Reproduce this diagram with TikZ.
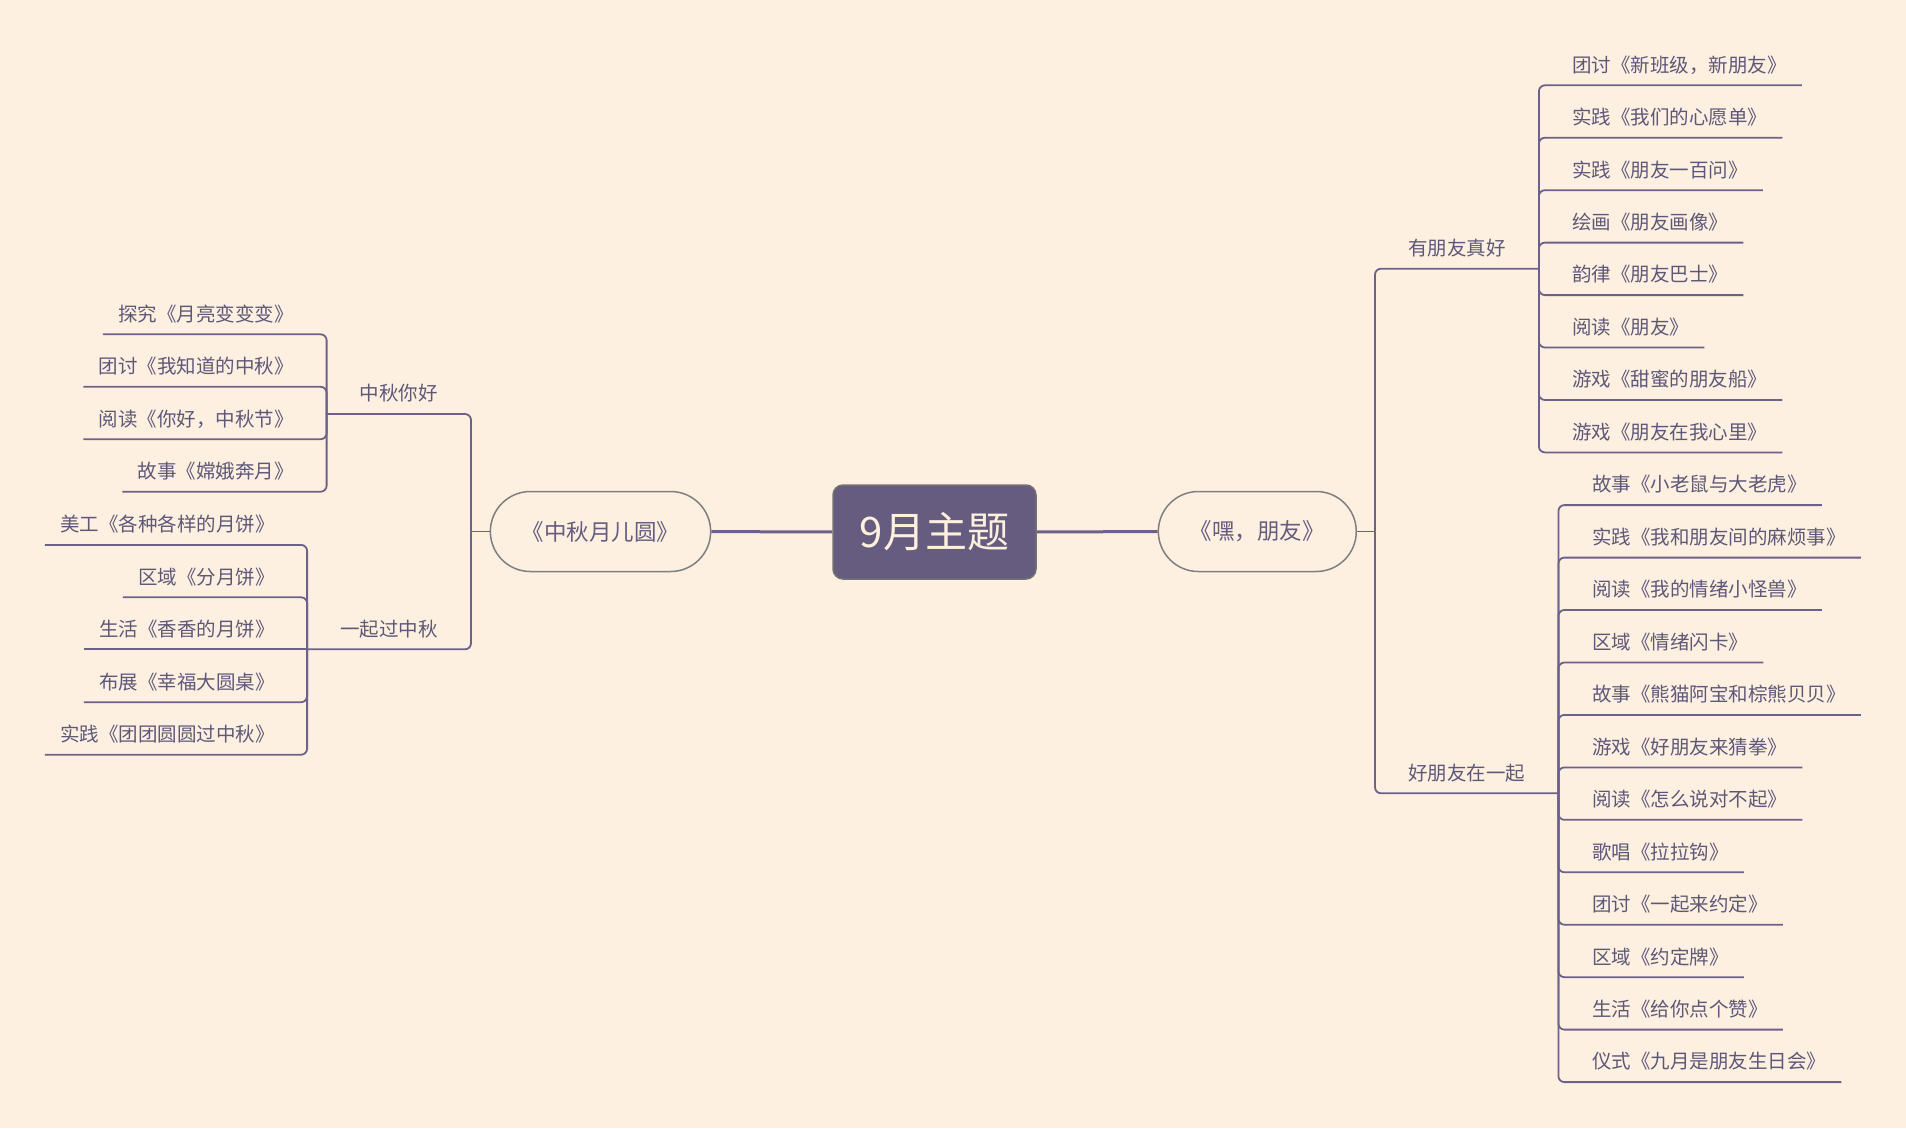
\documentclass[tikz,border=0pt]{standalone}
\usepackage{fontspec}
\setmainfont{Noto Sans CJK SC}
\usetikzlibrary{shapes.misc}

\definecolor{paper}{HTML}{FDF0E1}
\definecolor{plum}{HTML}{655C7F}
\definecolor{wire}{HTML}{6B6189}
\definecolor{ink}{HTML}{5E5878}
\definecolor{cream}{HTML}{FDF0DC}
\definecolor{rim}{HTML}{7F7F7F}

\tikzset{
    topic/.style={draw=rim!90!black, line width=1.5pt, fill=plum, text=cream, rounded corners=10pt,
        minimum width=203pt, minimum height=94pt, inner sep=0pt, font=\fontsize{42}{50}\selectfont},
    book/.style={draw=rim, line width=1.5pt, fill=paper, text=plum, rounded rectangle,
        minimum height=80pt, inner xsep=30pt, font=\fontsize{22.5}{27}\selectfont},
    theme/.style={text=ink, inner xsep=33pt, inner ysep=0pt, text height=20pt, text depth=13pt,
        font=\fontsize{19.5}{23}\selectfont},
    leaf/.style={text=ink, inner xsep=15pt, inner ysep=0pt, text height=20pt, text depth=13pt,
        font=\fontsize{19.5}{23}\selectfont},
    trunk/.style={draw=wire, line width=3pt},
    twig/.style={draw=wire, line width=1.8pt, rounded corners=6pt},
}

\begin{document}
\begin{tikzpicture}[x=1pt, y=-1pt]
    % paper
    \fill[paper] (0,0) rectangle (1906,1128);
    \useasboundingbox (0,0) rectangle (1906,1128);

    % centre and the two books
    \node[topic] (topic) at (934.5,532) {9月主题};
    \node[book] (lbook) at (600.5,531.5) {《中秋月儿圆》};
    \node[book] (rbook) at (1257.3,531.5) {《嘿，朋友》};
    \draw[trunk] (topic) -- (lbook);
    \draw[trunk] (topic) -- (rbook);

    \coordinate (ljoin) at (471,531.5);
    \coordinate (rjoin) at (1375,531.5);

    % right side, first theme
    \node[theme, anchor=south west] (ra) at (1375,268.7) {有朋友真好};
    \node[leaf, anchor=south west] (r1) at (1557,85.3) {团讨《新班级，新朋友》};
    \node[leaf, anchor=south west] (r2) at (1557,137.7) {实践《我们的心愿单》};
    \node[leaf, anchor=south west] (r3) at (1557,190.2) {实践《朋友一百问》};
    \node[leaf, anchor=south west] (r4) at (1557,242.6) {绘画《朋友画像》};
    \node[leaf, anchor=south west] (r5) at (1557,295.1) {韵律《朋友巴士》};
    \node[leaf, anchor=south west] (r6) at (1557,347.5) {阅读《朋友》};
    \node[leaf, anchor=south west] (r7) at (1557,400.0) {游戏《甜蜜的朋友船》};
    \node[leaf, anchor=south west] (r8) at (1557,452.4) {游戏《朋友在我心里》};

    % right side, second theme
    \node[theme, anchor=south west] (rb) at (1375,793.3) {好朋友在一起};
    \node[leaf, anchor=south west] (s1) at (1577,505.1) {故事《小老鼠与大老虎》};
    \node[leaf, anchor=south west] (s2) at (1577,557.6) {实践《我和朋友间的麻烦事》};
    \node[leaf, anchor=south west] (s3) at (1577,610.0) {阅读《我的情绪小怪兽》};
    \node[leaf, anchor=south west] (s4) at (1577,662.5) {区域《情绪闪卡》};
    \node[leaf, anchor=south west] (s5) at (1577,714.9) {故事《熊猫阿宝和棕熊贝贝》};
    \node[leaf, anchor=south west] (s6) at (1577,767.4) {游戏《好朋友来猜拳》};
    \node[leaf, anchor=south west] (s7) at (1577,819.8) {阅读《怎么说对不起》};
    \node[leaf, anchor=south west] (s8) at (1577,872.3) {歌唱《拉拉钩》};
    \node[leaf, anchor=south west] (s9) at (1577,924.7) {团讨《一起来约定》};
    \node[leaf, anchor=south west] (s10) at (1577,977.2) {区域《约定牌》};
    \node[leaf, anchor=south west] (s11) at (1577,1029.6) {生活《给你点个赞》};
    \node[leaf, anchor=south west] (s12) at (1577,1082.1) {仪式《九月是朋友生日会》};

    % left side, first theme
    \node[theme, anchor=south east] (la) at (471,414) {中秋你好};
    \node[leaf, anchor=south east] (l1) at (308.7,334.3) {探究《月亮变变变》};
    \node[leaf, anchor=south east] (l2) at (308.7,386.8) {团讨《我知道的中秋》};
    \node[leaf, anchor=south east] (l3) at (308.7,439.2) {阅读《你好，中秋节》};
    \node[leaf, anchor=south east] (l4) at (308.7,491.7) {故事《嫦娥奔月》};

    % left side, second theme
    \node[theme, anchor=south east] (lb) at (471,649.3) {一起过中秋};
    \node[leaf, anchor=south east] (m1) at (289.7,544.9) {美工《各种各样的月饼》};
    \node[leaf, anchor=south east] (m2) at (289.7,597.3) {区域《分月饼》};
    \node[leaf, anchor=south east] (m3) at (289.7,649.3) {生活《香香的月饼》};
    \node[leaf, anchor=south east] (m4) at (289.7,702.2) {布展《幸福大圆桌》};
    \node[leaf, anchor=south east] (m5) at (289.7,754.7) {实践《团团圆圆过中秋》};

    % branches
    \draw[twig] (rbook.east) -- (rjoin);
    \draw[twig] (rjoin) |- (ra.south east);
    \draw[twig] (rjoin) |- (rb.south east);
    \draw[twig] (lbook.west) -- (ljoin);
    \draw[twig] (ljoin) |- (la.south west);
    \draw[twig] (ljoin) |- (lb.south west);

    \draw[twig] (ra.south east) |- (r1.south east);
    \draw[twig] (ra.south east) |- (r2.south east);
    \draw[twig] (ra.south east) |- (r3.south east);
    \draw[twig] (ra.south east) |- (r4.south east);
    \draw[twig] (ra.south east) |- (r5.south east);
    \draw[twig] (ra.south east) |- (r6.south east);
    \draw[twig] (ra.south east) |- (r7.south east);
    \draw[twig] (ra.south east) |- (r8.south east);

    \draw[twig] (rb.south east) |- (s1.south east);
    \draw[twig] (rb.south east) |- (s2.south east);
    \draw[twig] (rb.south east) |- (s3.south east);
    \draw[twig] (rb.south east) |- (s4.south east);
    \draw[twig] (rb.south east) |- (s5.south east);
    \draw[twig] (rb.south east) |- (s6.south east);
    \draw[twig] (rb.south east) |- (s7.south east);
    \draw[twig] (rb.south east) |- (s8.south east);
    \draw[twig] (rb.south east) |- (s9.south east);
    \draw[twig] (rb.south east) |- (s10.south east);
    \draw[twig] (rb.south east) |- (s11.south east);
    \draw[twig] (rb.south east) |- (s12.south east);

    \draw[twig] (la.south west) |- (l1.south west);
    \draw[twig] (la.south west) |- (l2.south west);
    \draw[twig] (la.south west) |- (l3.south west);
    \draw[twig] (la.south west) |- (l4.south west);

    \draw[twig] (lb.south west) |- (m1.south west);
    \draw[twig] (lb.south west) |- (m2.south west);
    \draw[twig] (lb.south west) -- (m3.south west);
    \draw[twig] (lb.south west) |- (m4.south west);
    \draw[twig] (lb.south west) |- (m5.south west);
\end{tikzpicture}
\end{document}
